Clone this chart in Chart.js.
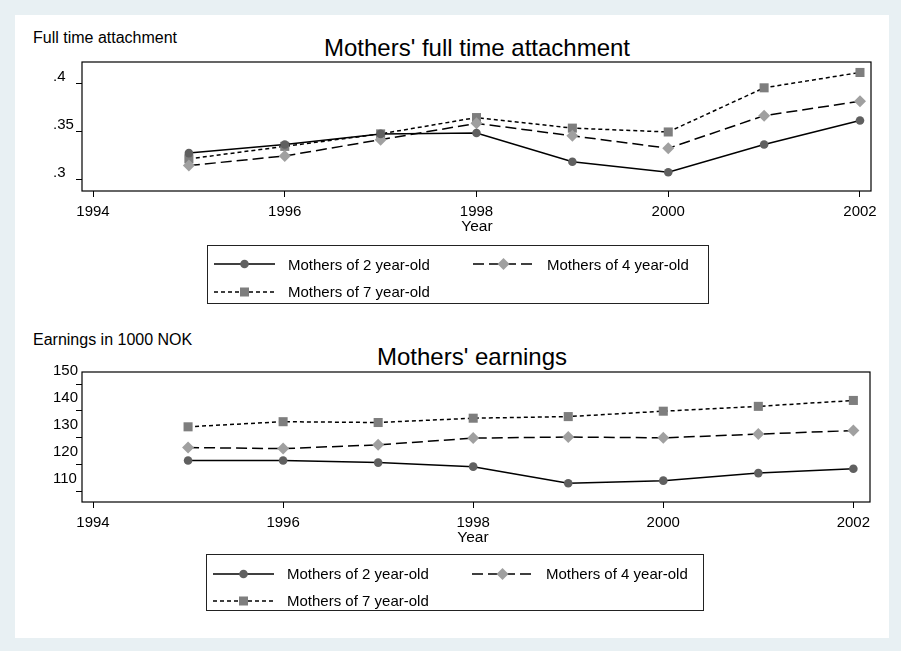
<!DOCTYPE html>
<html>
<head>
<meta charset="utf-8">
<script src="https://cdn.jsdelivr.net/npm/chart.js@4.4.0/dist/chart.umd.min.js"></script>
<style>
body { margin: 0; background: #e8f0f3; font-family: "Liberation Sans", Arial, sans-serif; }
#page { position: relative; width: 901px; height: 651px; overflow: hidden; }
.panel { position: absolute; left: 15px; top: 15px; width: 874px; height: 623px; background: #fff; }
canvas.chart { position: absolute; left: 0; }
.txt { position: absolute; white-space: nowrap; color: #000; line-height: 1; }
.legend { position: absolute; border: 1px solid #222; background: #fff; box-sizing: border-box; }
.legend svg, .legend span { position: absolute; }
.legend span { font-size: 15px; line-height: 1; white-space: nowrap; color: #000; }
</style>
</head>
<body>
<div id="page">
  <div class="panel"></div>

  <div class="txt" style="left:33px;top:30px;font-size:16px;">Full time attachment</div>
  <div class="txt" style="left:477px;top:36px;font-size:24px;transform:translateX(-50%);">Mothers' full time attachment</div>
  <canvas class="chart" id="attachChart" style="top:0;" width="901" height="221"></canvas>
  <div class="txt" style="left:477px;top:218px;font-size:15.5px;transform:translateX(-50%);">Year</div>
  <div class="legend" id="legendTop" style="left:207px;top:245px;width:502px;height:59px;"></div>

  <div class="txt" style="left:33px;top:332px;font-size:16px;">Earnings in 1000 NOK</div>
  <div class="txt" style="left:472px;top:345px;font-size:24px;transform:translateX(-50%);">Mothers' earnings</div>
  <canvas class="chart" id="earnChart" style="top:310px;" width="901" height="222"></canvas>
  <div class="txt" style="left:473px;top:529px;font-size:15.5px;transform:translateX(-50%);">Year</div>
  <div class="legend" id="legendBottom" style="left:206px;top:554px;width:498px;height:57px;"></div>
</div>

<script>
// data
const years = [1995, 1996, 1997, 1998, 1999, 2000, 2001, 2002];
const yearTicks = [1994, 1996, 1998, 2000, 2002];
const seriesNames = ["Mothers of 2 year-old", "Mothers of 4 year-old", "Mothers of 7 year-old"];

const attach2 = [0.328, 0.337, 0.348, 0.349, 0.319, 0.308, 0.337, 0.362];
const attach4 = [0.315, 0.325, 0.342, 0.359, 0.346, 0.333, 0.367, 0.382];
const attach7 = [0.322, 0.335, 0.348, 0.365, 0.354, 0.350, 0.396, 0.412];
const attachTicks = [0.3, 0.35, 0.4];

const earn2 = [121.6, 121.6, 120.8, 119.3, 113.1, 114.1, 116.9, 118.5];
const earn4 = [126.4, 126.0, 127.4, 129.9, 130.3, 130.0, 131.4, 132.7];
const earn7 = [134.1, 136.0, 135.7, 137.3, 137.9, 139.9, 141.7, 143.9];
const earnTicks = [110, 120, 130, 140, 150];

// styles per series
const styles = [
    { color: "#606060", dash: [], point: "circle", radius: 4.3 },
    { color: "#a0a0a0", dash: [11, 5], point: "rectRot", radius: 6 },
    { color: "#7e7e7e", dash: [4, 3], point: "rect", radius: 6.4 },
];

const FONT = "'Liberation Sans', Arial, sans-serif";

const makeDatasets = (seriesList) =>
    seriesList.map((values, i) => ({
        label: seriesNames[i],
        data: years.map((yr, j) => ({ x: yr, y: values[j] })),
        borderColor: "#000",
        borderWidth: 1.5,
        borderDash: styles[i].dash,
        pointStyle: styles[i].point,
        pointRadius: styles[i].radius,
        pointBackgroundColor: styles[i].color,
        pointBorderColor: styles[i].color,
        pointBorderWidth: 0,
        tension: 0,
        fill: false,
    }));

// box round the plot area
const boxPlugin = {
    id: "box",
    afterDraw(chart) {
        const { ctx, chartArea } = chart;
        ctx.save();
        ctx.strokeStyle = "#000";
        ctx.lineWidth = 1.2;
        ctx.strokeRect(chartArea.left, chartArea.top, chartArea.right - chartArea.left, chartArea.bottom - chartArea.top);
        ctx.restore();
    },
};

const makeOptions = (xMin, xMax, yMin, yMax, yTicks, yFmt, yLabelOffset, padRight) => ({
    responsive: false,
    animation: false,
    layout: { padding: { left: 53, top: 62, right: padRight, bottom: 0 } },
    plugins: { legend: { display: false }, tooltip: { enabled: false } },
    scales: {
        x: {
            type: "linear",
            min: xMin,
            max: xMax,
            afterBuildTicks: (scale) => { scale.ticks = yearTicks.map((v) => ({ value: v })); },
            afterFit: (scale) => { scale.height = 30; },
            border: { display: false },
            grid: { display: true, drawOnChartArea: false, drawTicks: true, tickLength: 6, color: "#000", lineWidth: 1 },
            ticks: { color: "#000", font: { family: FONT, size: 15 }, padding: 6, maxRotation: 0, callback: (v) => String(v) },
        },
        y: {
            type: "linear",
            min: yMin,
            max: yMax,
            afterBuildTicks: (scale) => { scale.ticks = yTicks.map((v) => ({ value: v })); },
            afterFit: (scale) => { scale.width = 29; },
            border: { display: false },
            grid: { display: true, drawOnChartArea: false, drawTicks: true, tickLength: 6, color: "#000", lineWidth: 1 },
            ticks: { color: "#000", font: { family: FONT, size: 15 }, crossAlign: "far", labelOffset: yLabelOffset, callback: yFmt },
        },
    },
});

new Chart(document.getElementById("attachChart"), {
    type: "line",
    data: { datasets: makeDatasets([attach2, attach4, attach7]) },
    options: makeOptions(1993.885, 2002.115, 0.2885, 0.4229, attachTicks,
        (v) => String(Number(v.toFixed(2))).replace(/^0/, ""), -7, 30),
    plugins: [boxPlugin],
});

new Chart(document.getElementById("earnChart"), {
    type: "line",
    data: { datasets: makeDatasets([earn2, earn4, earn7]) },
    options: makeOptions(1993.884, 2002.175, 106.16, 154.47, earnTicks,
        (v) => String(v), -13, 31),
    plugins: [boxPlugin],
});

// stata style legend, two columns
const markerSvg = (st) => {
    const cx = 30.5, cy = 7;
    if (st.point === "circle") return `<circle cx="${cx}" cy="${cy}" r="${st.radius}" fill="${st.color}"/>`;
    if (st.point === "rect") return `<rect x="${cx - 4.5}" y="${cy - 4.5}" width="9" height="9" fill="${st.color}"/>`;
    const r = st.radius;
    return `<polygon points="${cx - r},${cy} ${cx},${cy - r} ${cx + r},${cy} ${cx},${cy + r}" fill="${st.color}"/>`;
};

const buildLegend = (el, rowTops) => {
    const slots = [
        { sx: 6, tx: 80, row: 0 },
        { sx: 265, tx: 339, row: 0 },
        { sx: 6, tx: 80, row: 1 },
    ];
    seriesNames.forEach((name, i) => {
        const st = styles[i];
        const slot = slots[i];
        const cy = rowTops[slot.row];
        const svg = document.createElementNS("http://www.w3.org/2000/svg", "svg");
        svg.setAttribute("width", "61");
        svg.setAttribute("height", "14");
        svg.style.left = slot.sx + "px";
        svg.style.top = (cy - 7) + "px";
        svg.innerHTML = `<line x1="0" y1="7" x2="61" y2="7" stroke="#000" stroke-width="1.5" stroke-dasharray="${st.dash.length ? st.dash.join(",") : "none"}"/>` + markerSvg(st);
        el.appendChild(svg);
        const span = document.createElement("span");
        span.textContent = name;
        span.style.left = slot.tx + "px";
        span.style.top = (cy - 7.5) + "px";
        el.appendChild(span);
    });
};

buildLegend(document.getElementById("legendTop"), [18, 45.5]);
buildLegend(document.getElementById("legendBottom"), [18.5, 45.5]);
</script>
</body>
</html>
